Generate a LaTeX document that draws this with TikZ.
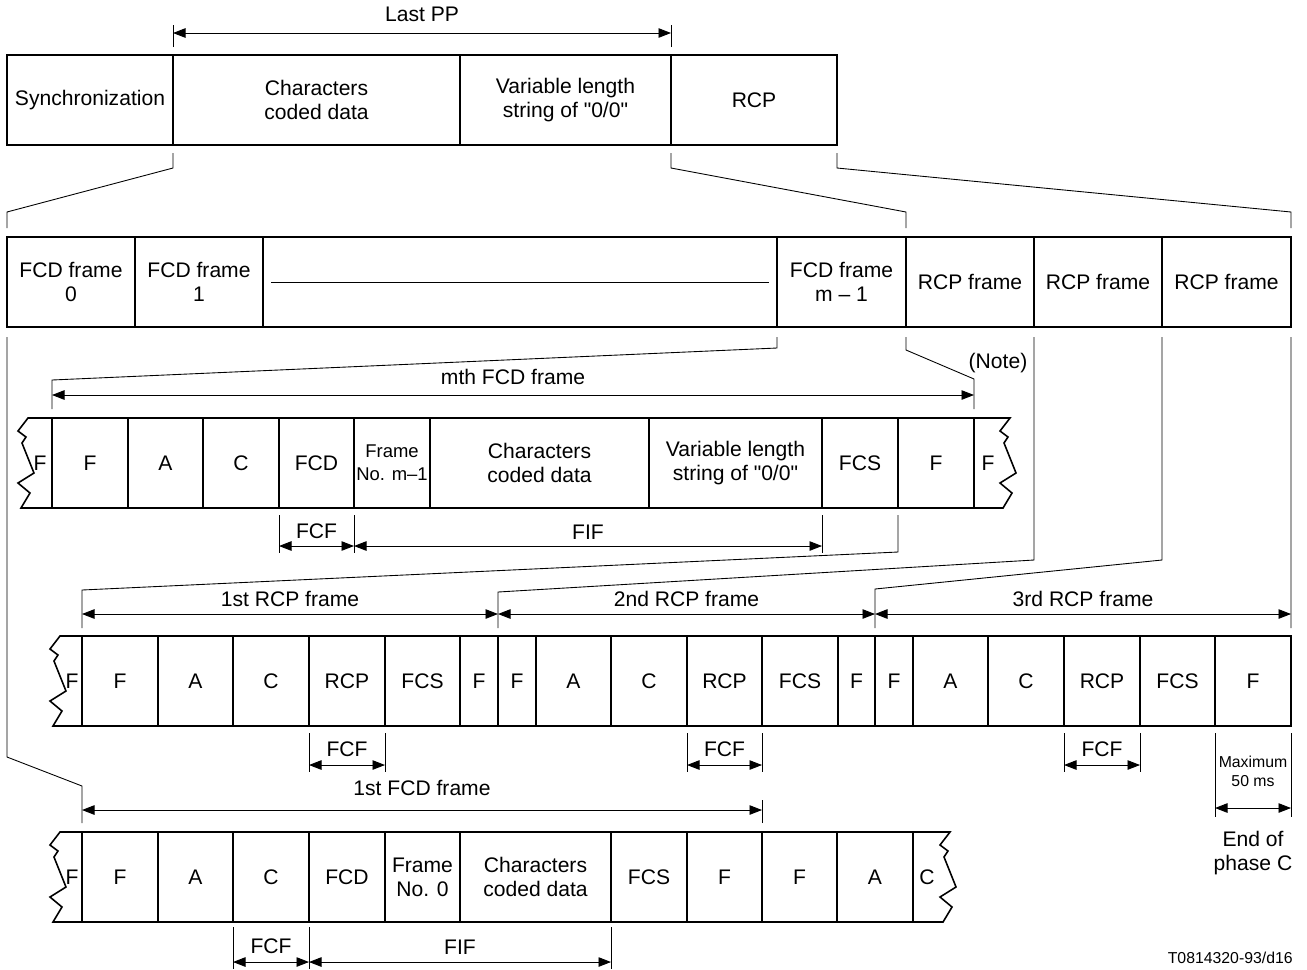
\documentclass[tikz,border=0pt]{standalone}
\usepackage{fontspec}
\setmainfont{Liberation Sans}[Ligatures=TeXOff]
\usetikzlibrary{positioning,calc,arrows.meta}

\tikzset{
  cell/.style={draw, line width=0.9pt, minimum height=18mm, inner sep=0pt, outer sep=0pt,
    align=center, font=\fontsize{12}{13.5}\selectfont},
  cw/.style={minimum width=#1*0.2mm},
  endtxt/.style={inner sep=0pt, font=\fontsize{12}{13.5}\selectfont},
  lbl/.style={inner sep=0pt, font=\fontsize{12}{13.5}\selectfont, align=center},
  smalltxt/.style={inner sep=0pt, font=\fontsize{9}{11}\selectfont, align=center},
  rowline/.style={line width=0.9pt},
  conn/.style={line width=0.5pt},
  dimarrow/.style={line width=0.5pt,
    {Triangle[length=2.5mm,width=1.9mm]}-{Triangle[length=2.5mm,width=1.9mm]}},
}
\newcommand\zigedge{-- ++(-10,13) -- ++(8,6) -- ++(-4,6) -- ++(12,30) -- ++(-16,10) -- ++(12,10) -- ++(-9,15)}

\begin{document}
\begin{tikzpicture}[x=0.2mm, y=-0.2mm]
\useasboundingbox (0,0) rectangle (1307,969);

% last PP
\node[cell, cw=166, anchor=north west] (sync) at (7,55) {Synchronization};
\node[cell, cw=287, right=0pt of sync] (ccd) {Characters\\coded data};
\node[cell, cw=211, right=0pt of ccd] (vls) {Variable length\\string of "0/0"};
\node[cell, cw=166, right=0pt of vls] (rcp) {RCP};

% frames
\node[cell, cw=128, anchor=north west] (fcd0) at (7,237) {FCD frame\\0};
\node[cell, cw=128, right=0pt of fcd0] (fcd1) {FCD frame\\1};
\node[cell, cw=514, right=0pt of fcd1] (gap) {};
\node[cell, cw=129, right=0pt of gap] (fcdm) {FCD frame\\m – 1};
\node[cell, cw=128, right=0pt of fcdm] (rcp1) {RCP frame};
\node[cell, cw=128, right=0pt of rcp1] (rcp2) {RCP frame};
\node[cell, cw=129, right=0pt of rcp2] (rcp3) {RCP frame};
\draw[conn] ($(gap.west)+(8,0)$) -- ($(gap.east)+(-8,0)$);

% mth FCD frame
\node[cell, cw=76, anchor=north west] (mF) at (52,418) {F};
\node[cell, cw=75, right=0pt of mF] (mA) {A};
\node[cell, cw=76, right=0pt of mA] (mC) {C};
\node[cell, cw=75, right=0pt of mC] (mFCD) {FCD};
\node[cell, cw=76, right=0pt of mFCD, font=\fontsize{10.5}{13}\selectfont] (mNo) {Frame\\No. m–1};
\node[cell, cw=219, right=0pt of mNo] (mData) {Characters\\coded data};
\node[cell, cw=173, right=0pt of mData] (mFill) {Variable length\\string of "0/0"};
\node[cell, cw=76, right=0pt of mFill] (mFCS) {FCS};
\node[cell, cw=76, right=0pt of mFCS] (mFlag) {F};
\node[endtxt] (mFL) at ($(mF.west)+(-12,0)$) {F};
\node[endtxt] (mFR) at ($(mFlag.east)+(14,0)$) {F};
\draw[rowline] (mF.north west) -- ++(-24,0) \zigedge -- (mF.south west);
\draw[rowline] (mFlag.north east) -- ++(36,0) \zigedge -- (mFlag.south east);

% RCP frames
\node[cell, cw=76, anchor=north west] (aF1) at (82,636) {F};
\node[cell, cw=75, right=0pt of aF1] (aA) {A};
\node[cell, cw=76, right=0pt of aA] (aC) {C};
\node[cell, cw=76, right=0pt of aC] (aRCP) {RCP};
\node[cell, cw=75, right=0pt of aRCP] (aFCS) {FCS};
\node[cell, cw=38, right=0pt of aFCS] (aF2) {F};
\node[cell, cw=38, right=0pt of aF2] (bF1) {F};
\node[cell, cw=75, right=0pt of bF1] (bA) {A};
\node[cell, cw=76, right=0pt of bA] (bC) {C};
\node[cell, cw=75, right=0pt of bC] (bRCP) {RCP};
\node[cell, cw=76, right=0pt of bRCP] (bFCS) {FCS};
\node[cell, cw=37, right=0pt of bFCS] (bF2) {F};
\node[cell, cw=38, right=0pt of bF2] (cF1) {F};
\node[cell, cw=75, right=0pt of cF1] (cA) {A};
\node[cell, cw=76, right=0pt of cA] (cC) {C};
\node[cell, cw=76, right=0pt of cC] (cRCP) {RCP};
\node[cell, cw=75, right=0pt of cRCP] (cFCS) {FCS};
\node[cell, cw=76, right=0pt of cFCS] (cF2) {F};
\node[endtxt] (rFL) at ($(aF1.west)+(-10,0)$) {F};
\draw[rowline] (aF1.north west) -- ++(-22,0) \zigedge -- (aF1.south west);

% 1st FCD frame
\node[cell, cw=76, anchor=north west] (sF) at (82,832) {F};
\node[cell, cw=75, right=0pt of sF] (sA) {A};
\node[cell, cw=76, right=0pt of sA] (sC) {C};
\node[cell, cw=76, right=0pt of sC] (sFCD) {FCD};
\node[cell, cw=75, right=0pt of sFCD] (sNo) {Frame\\No. 0};
\node[cell, cw=151, right=0pt of sNo] (sData) {Characters\\coded data};
\node[cell, cw=76, right=0pt of sData] (sFCS) {FCS};
\node[cell, cw=75, right=0pt of sFCS] (sF2) {F};
\node[cell, cw=75, right=0pt of sF2] (nF) {F};
\node[cell, cw=76, right=0pt of nF] (nA) {A};
\node[endtxt] (sFL) at ($(sF.west)+(-10,0)$) {F};
\node[endtxt] (nC) at ($(nA.east)+(14,0)$) {C};
\draw[rowline] (sF.north west) -- ++(-22,0) \zigedge -- (sF.south west);
\draw[rowline] (nA.north east) -- ++(37,0) \zigedge -- (nA.south east);

% last PP span
\draw[conn] ($(ccd.north west)+(0,-8)$) -- ++(0,-22);
\draw[conn] ($(rcp.north west)+(0,-8)$) -- ++(0,-22);
\draw[dimarrow] ($(ccd.north west)+(0,-22)$) -- node[lbl, above=2.1mm] (lastpp) {Last PP} ($(rcp.north west)+(0,-22)$);

% expansions
\draw[conn] ($(ccd.south west)+(0,8)$) -- ++(0,15) -- ($(fcd0.north west)+(0,-25)$) -- ++(0,16);
\draw[conn] ($(rcp.south west)+(0,8)$) -- ++(0,15) -- ($(rcp1.north west)+(0,-25)$) -- ++(0,16);
\draw[conn] ($(rcp.south east)+(0,8)$) -- ++(0,15) -- ($(rcp3.north east)+(0,-25)$) -- ++(0,16);

\draw[conn] ($(fcdm.south west)+(0,10)$) -- ++(0,11) -- ($(mF.north west)+(0,-38)$) -- ++(0,29);
\draw[conn] ($(rcp1.south west)+(0,10)$) -- ++(0,13) -- ($(mFlag.north east)+(0,-39)$) -- ++(0,30);
\draw[dimarrow] ($(mF.north west)+(0,-23)$) -- node[lbl, above=1.9mm] (mth) {mth FCD frame} ($(mFlag.north east)+(0,-23)$);
\node[lbl] (note) at (998,363) {(Note)};

% FCF / FIF of mth frame
\draw[conn] ($(mFCD.south west)+(0,7)$) -- ++(0,38);
\draw[conn] ($(mFCD.south east)+(0,7)$) -- ++(0,38);
\draw[conn] ($(mFill.south east)+(0,7)$) -- ++(0,38);
\draw[dimarrow] ($(mFCD.south west)+(0,38)$) -- node[lbl, above=1.3mm] (fcf1) {FCF} ($(mFCD.south east)+(0,38)$);
\draw[dimarrow] ($(mNo.south west)+(0,38)$) -- node[lbl, above=1.3mm] (fif1) {FIF} ($(mFill.south east)+(0,38)$);

% RCP frame spans
\draw[conn] ($(mFCS.south east)+(0,7)$) -- ++(0,37) -- ($(aF1.north west)+(0,-46)$) -- ++(0,38);
\draw[conn] ($(rcp2.south west)+(0,10)$) -- ++(0,223) -- ($(bF1.north west)+(0,-44)$) -- ++(0,36);
\draw[conn] ($(rcp3.south west)+(0,10)$) -- ++(0,223) -- ($(cF1.north west)+(0,-47)$) -- ++(0,39);
\draw[conn] ($(rcp3.south east)+(0,10)$) -- ($(cF2.north east)+(0,-8)$);
\draw[dimarrow] ($(aF1.north west)+(0,-22)$) -- node[lbl, above=1.3mm] (first) {1st RCP frame} ($(bF1.north west)+(0,-22)$);
\draw[dimarrow] ($(bF1.north west)+(0,-22)$) -- node[lbl, above=1.3mm] (second) {2nd RCP frame} ($(cF1.north west)+(0,-22)$);
\draw[dimarrow] ($(cF1.north west)+(0,-22)$) -- node[lbl, above=1.3mm] (third) {3rd RCP frame} ($(cF2.north east)+(0,-22)$);

% FCF of RCP frames
\draw[conn] ($(aRCP.south west)+(0,7)$) -- ++(0,39);
\draw[conn] ($(aRCP.south east)+(0,7)$) -- ++(0,39);
\draw[dimarrow] ($(aRCP.south west)+(0,39)$) -- node[lbl, above=1.5mm] (fcf2) {FCF} ($(aRCP.south east)+(0,39)$);
\draw[conn] ($(bRCP.south west)+(0,7)$) -- ++(0,39);
\draw[conn] ($(bRCP.south east)+(0,7)$) -- ++(0,39);
\draw[dimarrow] ($(bRCP.south west)+(0,39)$) -- node[lbl, above=1.5mm] (fcf3) {FCF} ($(bRCP.south east)+(0,39)$);
\draw[conn] ($(cRCP.south west)+(0,7)$) -- ++(0,39);
\draw[conn] ($(cRCP.south east)+(0,7)$) -- ++(0,39);
\draw[dimarrow] ($(cRCP.south west)+(0,39)$) -- node[lbl, above=1.5mm] (fcf4) {FCF} ($(cRCP.south east)+(0,39)$);

% end of phase C
\draw[conn] ($(cF2.south west)+(0,7)$) -- ++(0,84);
\draw[conn] ($(cF2.south east)+(0,7)$) -- ++(0,84);
\draw[dimarrow] ($(cF2.south west)+(0,82)$) -- node[smalltxt, above=4.2mm] (maxi) {Maximum\\50 ms}
  node[lbl, below=4.6mm] (endc) {End of\\phase C} ($(cF2.south east)+(0,82)$);

% 1st FCD frame span
\draw[conn] ($(fcd0.south west)+(0,10)$) -- ($(sF.north west)+(-75,-75)$) -- ($(sF.north west)+(0,-46)$) -- ++(0,37);
\draw[conn] ($(sF2.north east)+(0,-9)$) -- ++(0,-23);
\draw[dimarrow] ($(sF.north west)+(0,-22)$) -- node[lbl, above=2.7mm] (firstfcd) {1st FCD frame} ($(sF2.north east)+(0,-22)$);

% FCF / FIF of 1st frame
\draw[conn] ($(sC.south west)+(0,5)$) -- ++(0,42);
\draw[conn] ($(sC.south east)+(0,5)$) -- ++(0,42);
\draw[conn] ($(sData.south east)+(0,5)$) -- ++(0,42);
\draw[dimarrow] ($(sC.south west)+(0,40)$) -- node[lbl, above=1.5mm] (fcf5) {FCF} ($(sC.south east)+(0,40)$);
\draw[dimarrow] ($(sFCD.south west)+(0,40)$) -- node[lbl, above=1.5mm] (fif2) {FIF} ($(sData.south east)+(0,40)$);

\node[anchor=east, inner sep=0pt, font=\fontsize{9}{11}\selectfont] (code) at (1293,958) {T0814320-93/d16};
\end{tikzpicture}
\end{document}
